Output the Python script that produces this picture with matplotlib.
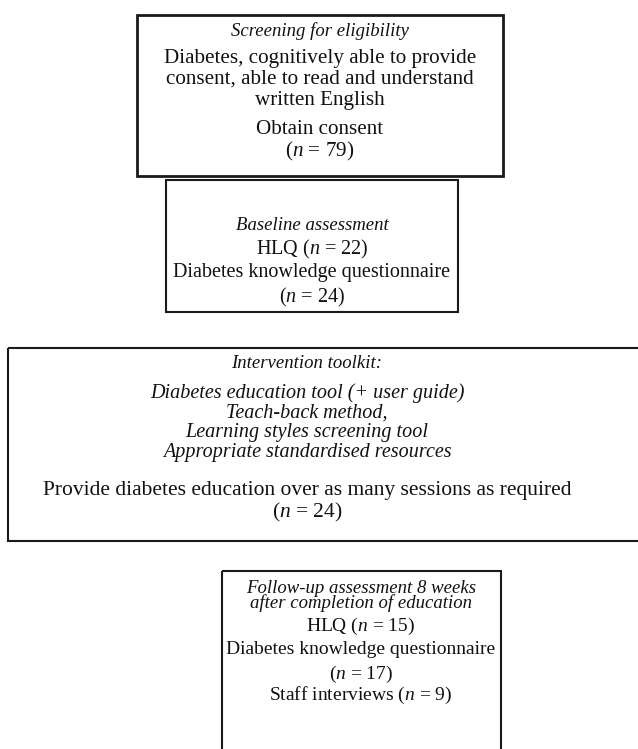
import matplotlib
matplotlib.use("Agg")
import matplotlib.pyplot as plt
from matplotlib.patches import Rectangle

plt.rcParams["font.family"] = ["Liberation Serif", "DejaVu Serif"]
plt.rcParams["mathtext.fontset"] = "custom"
plt.rcParams["mathtext.rm"] = "Liberation Serif"
plt.rcParams["mathtext.it"] = "Liberation Serif:italic"

# text of each box: (line, kind) with kind h = italic heading, i = italic, r = roman
screening_lines = [
    ("Screening for eligibility", "h"),
    ("Diabetes, cognitively able to provide", "r"),
    ("consent, able to read and understand", "r"),
    ("written English", "r"),
    ("Obtain consent", "r"),
    ("($n$ = 79)", "r"),
]
baseline_lines = [
    ("Baseline assessment", "h"),
    ("HLQ ($n$ = 22)", "r"),
    ("Diabetes knowledge questionnaire", "r"),
    ("($n$ = 24)", "r"),
]
toolkit_lines = [
    ("Intervention toolkit:", "h"),
    ("Diabetes education tool (+ user guide)", "i"),
    ("Teach-back method,", "i"),
    ("Learning styles screening tool", "i"),
    ("Appropriate standardised resources", "i"),
    ("Provide diabetes education over as many sessions as required", "r"),
    ("($n$ = 24)", "r"),
]
followup_lines = [
    ("Follow-up assessment 8 weeks\nafter completion of education", "h"),
    ("HLQ ($n$ = 15)", "r"),
    ("Diabetes knowledge questionnaire", "r"),
    ("($n$ = 17)", "r"),
    ("Staff interviews ($n$ = 9)", "r"),
]

# layout in pixels: box (x0, y0, x1, y1), text centre x, line y, border width, roman size
boxes = [
    (screening_lines, (137, 15, 503, 176), 320, [31, 58, 79, 100, 130, 151], 2.0, 15.2),
    (baseline_lines, (166, 180, 458, 312), 312, [226, 249, 273, 297], 1.5, 14.5),
    (toolkit_lines, (8, 348, 660, 541), 307, [364, 393, 413, 433, 453, 491, 512], 1.5, 15.5),
    (followup_lines, (222, 571, 501, 770), 361, [596, 626, 650, 674, 695], 1.5, 14.0),
]
sizes = {"h": 13.5, "i": 14.5}

W, H = 638, 749
fig = plt.figure(figsize=(W / 100, H / 100), dpi=100)
ax = fig.add_axes([0, 0, 1, 1])
ax.set_xlim(0, W)
ax.set_ylim(H, 0)
ax.axis("off")

for lines, (x0, y0, x1, y1), cx, ys, lw, rsize in boxes:
    ax.add_patch(Rectangle((x0, y0), x1 - x0, y1 - y0, fill=False,
                           edgecolor="#1a1a1a", linewidth=lw))
    for (txt, kind), y in zip(lines, ys):
        fs = sizes.get(kind, rsize)
        ax.text(cx, y, txt, ha="center", va="center", fontsize=fs,
                style="normal" if kind == "r" else "italic",
                linespacing=0.8, color="#111111")

fig.savefig("out.png", dpi=100)
